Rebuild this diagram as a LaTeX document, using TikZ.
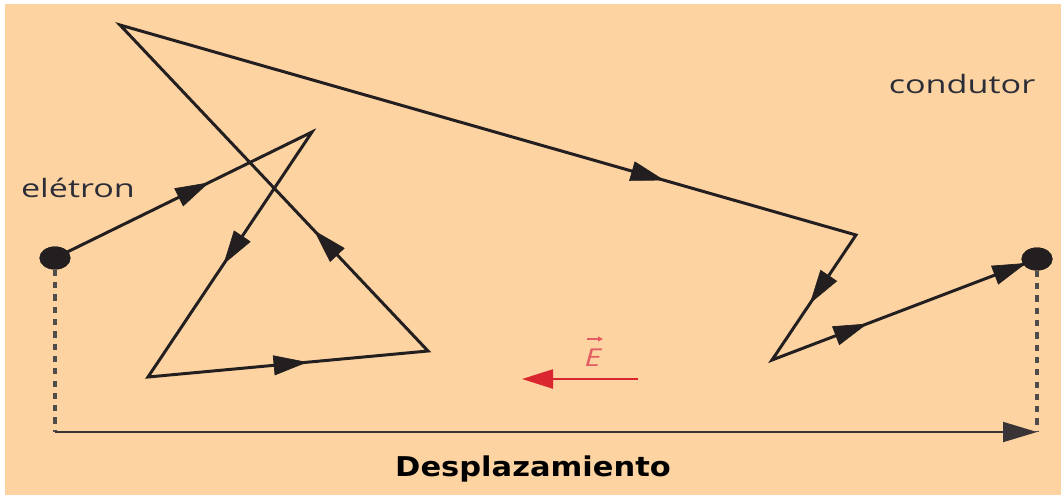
\documentclass[tikz,border=0pt]{standalone}
\usepackage{fontspec}
\setsansfont{Open Sans}
\newfontfamily\boldlabel{DejaVu Sans}
\usetikzlibrary{arrows.meta,decorations.markings,shapes.geometric}

\definecolor{peach}{RGB}{252,211,161}
\definecolor{ink}{RGB}{35,31,32}
\definecolor{fieldred}{RGB}{218,38,46}
\definecolor{labelgray}{RGB}{45,45,55}

\tikzset{
  blacktip/.tip={Triangle[length=0.68cm,width=0.4cm]},
  walk/.style={ink,line width=1.7pt,miter limit=20},
  markarrow/.style={postaction={decorate,decoration={markings,
      mark=at position #1 with {\arrow[ink]{blacktip}}}}},
  dot/.style={ellipse,fill=ink,minimum width=0.62cm,minimum height=0.46cm,inner sep=0pt},
  caption/.style={font=\sffamily\fontsize{14.4}{17}\selectfont,text=labelgray,xscale=1.35},
}

\begin{document}
\begin{tikzpicture}[x=0.02cm,y=-0.02cm]
  % Frame and background
  \useasboundingbox (0,0) rectangle (1061,495);
  \fill[white] (0,0) rectangle (1061,495);
  \fill[peach] (5,4) rectangle (1061,495);

  % Corners of the electron's path
  \coordinate (v1) at (312,132);
  \coordinate (v2) at (148,377);
  \coordinate (v3) at (428,351);
  \coordinate (v4) at (120,25);
  \coordinate (v5) at (856,235);
  \coordinate (v6) at (772,360);

  % Start and end of the electron
  \node[dot] (s) at (55,258) {};
  \node[dot] (e) at (1037,259) {};

  % Zig-zag path
  \draw[walk] (s.center) -- (v1) -- (v2) -- (v3) -- (v4) -- (v5) -- (v6) -- (e.center);
  \foreach \a/\b/\p in {s.center/v1/0.6, v1/v2/0.54, v2/v3/0.57, v3/v4/0.37,
                        v4/v5/0.74, v5/v6/0.55, v6/e.center/0.36, v6/e.center/0.96}
    \path[markarrow=\p] (\a) -- (\b);
  \node[dot] at (s) {};
  \node[dot] at (e) {};

  % Displacement
  \coordinate (b1) at (55,432);
  \coordinate (b2) at (1037,432);
  \draw[ink!80,line width=2pt,dash pattern=on 3.5pt off 3.5pt] (s) -- (b1);
  \draw[ink!80,line width=2pt,dash pattern=on 3.5pt off 3.5pt] (e) -- (b2);
  \draw[ink!90,line width=1.1pt,-{blacktip}] (b1) -- (b2);
  \node[font=\boldlabel\bfseries\fontsize{15.5}{18}\selectfont,xscale=1.12] (disp) at (533,469) {Desplazamiento};

  % Electric field
  \coordinate (f1) at (638,379);
  \coordinate (f0) at (522,379);
  \draw[fieldred,line width=1.3pt,-{Triangle[length=0.62cm,width=0.38cm]}] (f1) -- (f0);
  \node[text=fieldred!75!white,font=\sffamily\itshape\fontsize{14}{16}\selectfont,xscale=1.3] (E) at (593,358) {E};
  \draw[fieldred!75!white,line width=0.8pt,-{Triangle[length=0.1cm,width=0.1cm]}]
    ([xshift=-0.12cm,yshift=0.08cm]E.north) -- ([xshift=0.2cm,yshift=0.08cm]E.north);

  % Labels
  \node[caption] (el) at (78,188) {elétron};
  \node[caption] (cond) at (962,84) {condutor};
\end{tikzpicture}
\end{document}
